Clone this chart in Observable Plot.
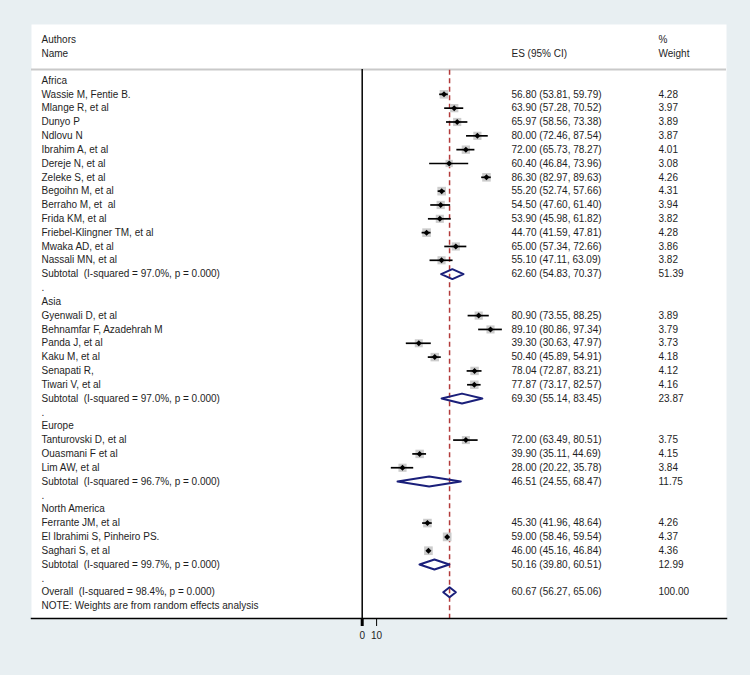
<!DOCTYPE html>
<html>
<head>
<meta charset="utf-8">
<script src="https://cdn.jsdelivr.net/npm/d3@7"></script>
<script src="https://cdn.jsdelivr.net/npm/@observablehq/plot@0.6"></script>
<style>
  html, body { margin: 0; padding: 0; background: #e8eff2; }
  svg text { white-space: pre; }
</style>
</head>
<body>
<div id="chart"></div>
<script>
// ---- data ----
const regions = ["Africa", "Asia", "Europe", "North America"];

const studyNames = [
  "Wassie M, Fentie B.", "Mlange R, et al", "Dunyo P", "Ndlovu N", "Ibrahim A, et al",
  "Dereje N, et al", "Zeleke S, et al", "Begoihn M, et al", "Berraho M, et  al", "Frida KM, et al",
  "Friebel-Klingner TM, et al", "Mwaka AD, et al", "Nassali MN, et al",
  "Gyenwali D, et al", "Behnamfar F, Azadehrah M", "Panda J, et al", "Kaku M, et al",
  "Senapati R,", "Tiwari V, et al",
  "Tanturovski D, et al", "Ouasmani F et al", "Lim AW, et al",
  "Ferrante JM, et al", "El Ibrahimi S, Pinheiro PS.", "Saghari S, et al"
];
const studyRegion = [
  "Africa","Africa","Africa","Africa","Africa","Africa","Africa","Africa","Africa","Africa","Africa","Africa","Africa",
  "Asia","Asia","Asia","Asia","Asia","Asia",
  "Europe","Europe","Europe",
  "North America","North America","North America"
];
const studyES = [56.80, 63.90, 65.97, 80.00, 72.00, 60.40, 86.30, 55.20, 54.50, 53.90, 44.70, 65.00, 55.10,
  80.90, 89.10, 39.30, 50.40, 78.04, 77.87,
  72.00, 39.90, 28.00,
  45.30, 59.00, 46.00];
const studyLo = [53.81, 57.28, 58.56, 72.46, 65.73, 46.84, 82.97, 52.74, 47.60, 45.98, 41.59, 57.34, 47.11,
  73.55, 80.86, 30.63, 45.89, 72.87, 73.17,
  63.49, 35.11, 20.22,
  41.96, 58.46, 45.16];
const studyHi = [59.79, 70.52, 73.38, 87.54, 78.27, 73.96, 89.63, 57.66, 61.40, 61.82, 47.81, 72.66, 63.09,
  88.25, 97.34, 47.97, 54.91, 83.21, 82.57,
  80.51, 44.69, 35.78,
  48.64, 59.54, 46.84];
const studyWeight = [4.28, 3.97, 3.89, 3.87, 4.01, 3.08, 4.26, 4.31, 3.94, 3.82, 4.28, 3.86, 3.82,
  3.89, 3.79, 3.73, 4.18, 4.12, 4.16,
  3.75, 4.15, 3.84,
  4.26, 4.37, 4.36];

const subtotalLabels = [
  "Subtotal  (I-squared = 97.0%, p = 0.000)",
  "Subtotal  (I-squared = 97.0%, p = 0.000)",
  "Subtotal  (I-squared = 96.7%, p = 0.000)",
  "Subtotal  (I-squared = 99.7%, p = 0.000)"
];
const subtotalES = [62.60, 69.30, 46.51, 50.16];
const subtotalLo = [54.83, 55.14, 24.55, 39.80];
const subtotalHi = [70.37, 83.45, 68.47, 60.51];
const subtotalWeight = [51.39, 23.87, 11.75, 12.99];

const overallLabel = "Overall  (I-squared = 98.4%, p = 0.000)";
const overallES = 60.67, overallLo = 56.27, overallHi = 65.06, overallWeight = 100.00;
const noteText = "NOTE: Weights are from random effects analysis";

const headerLeft = ["Authors", "Name"];
const headerES = ["", "ES (95% CI)"];
const headerWeight = ["%", "Weight"];
const xTicks = [0, 10];

// ---- build rows ----
const fmt = v => v.toFixed(2);
const rows = [];
const studies = [];
const diamonds = [];
let r = 0;
regions.forEach((reg, k) => {
  rows.push({row: r++, label: reg});
  studyNames.forEach((n, i) => {
    if (studyRegion[i] !== reg) return;
    const d = {row: r++, label: n, es: studyES[i], lo: studyLo[i], hi: studyHi[i], w: studyWeight[i]};
    studies.push(d); rows.push(d);
  });
  const s = {row: r++, label: subtotalLabels[k], es: subtotalES[k], lo: subtotalLo[k], hi: subtotalHi[k], w: subtotalWeight[k], key: reg};
  diamonds.push(s); rows.push(s);
  rows.push({row: r++, label: "."});
});
const ov = {row: r++, label: overallLabel, es: overallES, lo: overallLo, hi: overallHi, w: overallWeight, key: "overall"};
diamonds.push(ov); rows.push(ov);
rows.push({row: r++, label: noteText});
const nRows = r; // 39

const valued = rows.filter(d => d.es !== undefined);

const dh = 0.36;
const diamondPts = diamonds.flatMap(d => [
  {k: d.key, x: d.lo, y: d.row},
  {k: d.key, x: d.es, y: d.row - dh},
  {k: d.key, x: d.hi, y: d.row},
  {k: d.key, x: d.es, y: d.row + dh},
  {k: d.key, x: d.lo, y: d.row}
]);

const headers = headerLeft.map((t, i) => ({row: -2.95 + i, left: t, es: headerES[i], w: headerWeight[i]}));

// layout
const rowH = 13.83, y0 = 80, H = 675, bottomPx = 618;
const bottomRow = (bottomPx - y0) / rowH;

const txt = "#1e1e1e";
const chart = Plot.plot({
  width: 750,
  height: H,
  marginTop: 24,
  marginLeft: 31,
  marginRight: 24,
  marginBottom: H - bottomPx,
  style: {background: "#e8eff2", fontFamily: "'Liberation Sans', Arial, Helvetica, sans-serif", fontSize: "10px", color: txt},
  x: {type: "linear", domain: [0, 100], range: [361.7, 505.7]},
  y: {type: "linear", domain: [0, nRows - 1], range: [y0, y0 + (nRows - 1) * rowH], axis: null},
  r: {type: "sqrt", domain: [0, 4.37], range: [0, 4.9]},
  marks: [
    Plot.frame({fill: "white", stroke: null}),
    Plot.text(headers, {y: "row", text: "left", frameAnchor: "left", dx: 10, textAnchor: "start", fill: txt}),
    Plot.text(headers, {y: "row", text: "es", frameAnchor: "left", dx: 480, textAnchor: "start", fill: txt}),
    Plot.text(headers, {y: "row", text: "w", frameAnchor: "left", dx: 627, textAnchor: "start", fill: txt}),
    Plot.ruleY([-0.8], {stroke: "#c9c9c9", strokeWidth: 2}),
    Plot.ruleX([0], {y1: -0.8, y2: bottomRow, stroke: "black", strokeWidth: 1.5}),
    Plot.ruleX([overallES], {y1: -0.75, y2: bottomRow, stroke: "#b23a3a", strokeWidth: 1.5, strokeDasharray: "5,3.5"}),
    Plot.dot(studies, {x: "es", y: "row", r: "w", symbol: "square", fill: "#cccccc", stroke: null}),
    Plot.ruleY(studies, {y: "row", x1: "lo", x2: "hi", stroke: "black", strokeWidth: 1.7}),
    Plot.dot(studies, {x: "es", y: "row", r: 2.7, symbol: "diamond2", fill: "black", stroke: null}),
    Plot.line(diamondPts, {x: "x", y: "y", z: "k", stroke: "#1a1f7a", strokeWidth: 2, curve: "linear"}),
    Plot.text(rows, {y: "row", text: "label", frameAnchor: "left", dx: 10, textAnchor: "start", fill: txt}),
    Plot.text(valued, {y: "row", text: d => `${fmt(d.es)} (${fmt(d.lo)}, ${fmt(d.hi)})`, frameAnchor: "left", dx: 480, textAnchor: "start", fill: txt}),
    Plot.text(valued, {y: "row", text: d => fmt(d.w), frameAnchor: "left", dx: 627, textAnchor: "start", fill: txt}),
    Plot.frame({anchor: "bottom", stroke: "black", strokeWidth: 1.5}),
    Plot.axisX({ticks: xTicks, tickSize: 8, tickPadding: 5, tickFormat: d => String(d), label: null, stroke: "black", fill: txt}),
    Plot.ruleX([xTicks[0]], {y1: bottomRow, y2: bottomRow + 8 / rowH, stroke: "black", strokeWidth: 3})
  ]
});
document.getElementById("chart").appendChild(chart);
</script>
</body>
</html>
